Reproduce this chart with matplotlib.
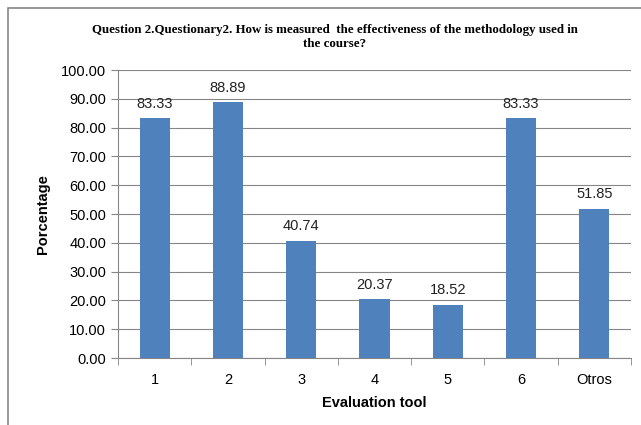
import matplotlib
matplotlib.use("Agg")
import matplotlib.pyplot as plt
from matplotlib.patches import Rectangle

categories = ["1", "2", "3", "4", "5", "6", "Otros"]
values = [83.33, 88.89, 40.74, 20.37, 18.52, 83.33, 51.85]
yticks = [0, 10, 20, 30, 40, 50, 60, 70, 80, 90, 100]

plt.rcParams['font.family'] = ['Liberation Sans', 'DejaVu Sans']

fig = plt.figure(figsize=(6.41, 4.25), dpi=100)
# outer chart frame
fig.patches.append(Rectangle((8 / 641, -0.05), 1.1, 1 - 8 / 425 + 0.05,
                             transform=fig.transFigure, fill=False,
                             edgecolor='#868686', linewidth=1.2))

ax = fig.add_axes([118 / 641, 1 - 358 / 425, 513 / 641, 288 / 425])
x = range(len(categories))
bars = ax.bar(x, values, width=0.41, color='#4F81BD', zorder=3)

for xi, v in zip(x, values):
    ax.text(xi, v + 2.5, "%.2f" % v, ha='center', va='bottom', fontsize=10.5, color='#222222')

ax.set_ylim(0, 100)
ax.set_xlim(-0.5, len(categories) - 0.5)
ax.set_yticks(yticks)
ax.set_yticklabels(["%.2f" % t for t in yticks], fontsize=10.5)
ax.set_xticks(x)
ax.set_xticklabels(categories, fontsize=10.5)
ax.set_xticks([i - 0.5 for i in range(len(categories) + 1)], minor=True)
ax.tick_params(axis='x', which='major', length=0, pad=11)
ax.tick_params(axis='x', which='minor', length=5, color='#868686')
ax.tick_params(axis='y', length=5, color='#868686')
ax.grid(axis='y', color='#868686', linewidth=0.8, zorder=0)

for side in ['top', 'right']:
    ax.spines[side].set_visible(False)
ax.spines['left'].set_color('#868686')
ax.spines['bottom'].set_color('#868686')

ax.set_ylabel("Porcentage", fontsize=10.5, fontweight='bold', labelpad=8)
ax.set_xlabel("Evaluation tool", fontsize=10.5, fontweight='bold', labelpad=6)

fig.text(335 / 641, 1 - 37 / 425,
         "Question 2.Questionary2. How is measured  the effectiveness of the methodology used in\nthe course?",
         ha='center', va='center', fontsize=9.3, fontweight='bold',
         family=['Liberation Serif', 'DejaVu Serif'], linespacing=1.25)

fig.savefig("out.png", dpi=100)
